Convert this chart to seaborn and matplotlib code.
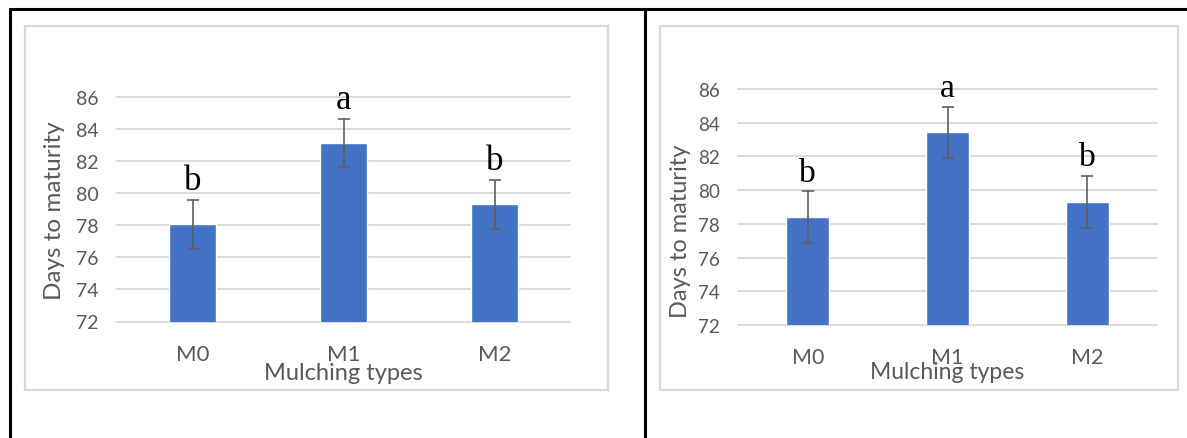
import matplotlib
matplotlib.use("Agg")
import matplotlib.pyplot as plt
import seaborn as sns
from matplotlib.lines import Line2D
from matplotlib.patches import Rectangle

# ---- data ----
categories = ["M0", "M1", "M2"]
left_means = [78.05, 83.15, 79.3]
left_errs = [1.55, 1.5, 1.55]
left_letters = ["b", "a", "b"]
right_means = [78.4, 83.43, 79.3]
right_errs = [1.55, 1.52, 1.55]
right_letters = ["b", "a", "b"]
y_ticks = [72, 74, 76, 78, 80, 82, 84, 86]
x_label = "Mulching types"
y_label = "Days to maturity"

sns.set_style("white")
plt.rcParams["font.family"] = ["Lato", "DejaVu Sans"]

W, H = 1187, 439
fig = plt.figure(figsize=(W / 100, H / 100), dpi=100)
fig.patch.set_facecolor("white")

def px_axes(x0, x1, ytop, ybot):
    return fig.add_axes([x0 / W, 1 - ybot / H, (x1 - x0) / W, (ybot - ytop) / H])

def fig_line(xs, ys, color, lw):
    fig.add_artist(Line2D([x / W for x in xs], [1 - y / H for y in ys],
                          color=color, lw=lw, transform=fig.transFigure))

def fig_rect(x0, y0, x1, y1, color, lw):
    fig.add_artist(Rectangle((x0 / W, 1 - y1 / H), (x1 - x0) / W, (y1 - y0) / H,
                             fill=False, edgecolor=color, lw=lw,
                             transform=fig.transFigure))

# table borders
fig_line([10, 1187], [10, 10], "black", 2.2)
fig_line([10, 10], [10, 439], "black", 2.2)
fig_line([645, 645], [10, 439], "black", 2.2)
# chart frames
fig_rect(25, 27, 608, 391, "#d9d9d9", 1.6)
fig_rect(660, 27, 1178, 391, "#d9d9d9", 1.6)

gray = "#595959"

def draw(ax, means, errs, letters, ylab_y, xlab_y, s=1.0):
    sns.barplot(x=categories, y=means, color="#4472C4", saturation=1,
                width=0.31, errorbar=None, ax=ax, zorder=2)
    ax.errorbar(range(len(categories)), means, yerr=errs, fmt="none",
                ecolor="#5f5f5f", elinewidth=1.2, capsize=4.5, capthick=1.2,
                zorder=3)
    for i, (m, e, l) in enumerate(zip(means, errs, letters)):
        ax.annotate(l, xy=(i, m + e), xytext=(0, 7.5), textcoords="offset points",
                    ha="center", va="baseline", fontsize=25 * s,
                    family="Liberation Serif", color="black")
    ax.set_xlim(-0.5, 2.5)
    ax.set_ylim(72, 86)
    ax.set_yticks(y_ticks)
    ax.set_yticklabels([str(t) for t in y_ticks])
    ax.set_axisbelow(True)
    ax.yaxis.grid(True, color="#d9d9d9", lw=1.4)
    for gl in ax.get_ygridlines():
        gl.set_clip_on(False)
    for sp in ax.spines.values():
        sp.set_visible(False)
    ax.tick_params(axis="y", length=0, pad=13, labelsize=14 * s, labelcolor=gray)
    ax.tick_params(axis="x", length=0, pad=16, labelsize=16 * s, labelcolor=gray)
    ax.set_xlabel(x_label, fontsize=17 * s, color=gray)
    ax.set_ylabel(y_label, fontsize=17.5 * s, color=gray)
    ax.xaxis.label.set_va("center")
    ax.yaxis.label.set_va("center")
    ax.xaxis.set_label_coords(0.5, xlab_y)
    ax.yaxis.set_label_coords(-0.137, ylab_y)
    ax.patch.set_alpha(0)

axL = px_axes(117, 570, 98, 322.5)
draw(axL, left_means, left_errs, left_letters, 0.5, -0.225)
axR = px_axes(738, 1157, 90, 326)
draw(axR, right_means, right_errs, right_letters, 0.40, -0.199, s=0.97)

fig.savefig("out.png", dpi=100, facecolor="white")
